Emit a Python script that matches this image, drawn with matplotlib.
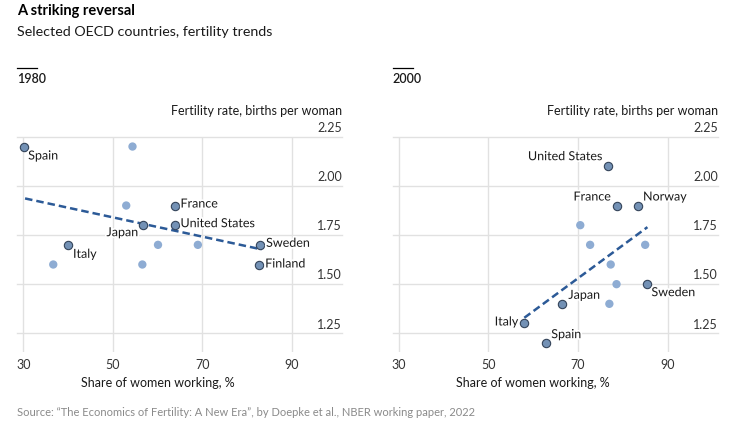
import matplotlib.pyplot as plt
import matplotlib.patheffects as pe
from matplotlib.lines import Line2D

plt.rcParams["font.family"] = ["Lato", "DejaVu Sans"]

# --- data -----------------------------------------------------------------
countries_1980 = ["Spain", "France", "United States", "Japan", "Italy", "Sweden", "Finland"]
work_1980 = [30.2, 64.0, 64.0, 56.8, 40.0, 82.9, 82.7]
fert_1980 = [2.20, 1.90, 1.80, 1.80, 1.70, 1.70, 1.60]
other_work_1980 = [54.4, 53.0, 60.1, 69.0, 36.7, 56.6]
other_fert_1980 = [2.20, 1.90, 1.70, 1.70, 1.60, 1.60]
trend_x_1980 = [30.4, 83.2]
trend_y_1980 = [1.936, 1.677]

countries_2000 = ["United States", "France", "Norway", "Sweden", "Japan", "Italy", "Spain"]
work_2000 = [76.6, 78.7, 83.4, 85.5, 66.5, 58.0, 62.9]
fert_2000 = [2.10, 1.90, 1.90, 1.50, 1.40, 1.30, 1.20]
other_work_2000 = [70.5, 72.7, 85.0, 77.3, 78.6, 77.0]
other_fert_2000 = [1.80, 1.70, 1.70, 1.60, 1.50, 1.40]
trend_x_2000 = [58.0, 85.5]
trend_y_2000 = [1.329, 1.79]

x_ticks = [30, 50, 70, 90]
y_ticks = [1.25, 1.50, 1.75, 2.00, 2.25]

# label placement: (dx px, dy px (down positive), horizontal alignment)
place_1980 = {
    "Spain": (4, 9, "left"),
    "France": (5, -2, "left"),
    "United States": (5, -2, "left"),
    "Japan": (-5, 7, "right"),
    "Italy": (5, 9, "left"),
    "Sweden": (6, -2, "left"),
    "Finland": (6, -1, "left"),
}
place_2000 = {
    "United States": (-5, -10, "right"),
    "France": (-6, -9, "right"),
    "Norway": (5, -9, "left"),
    "Sweden": (4, 8, "left"),
    "Japan": (6, -9, "left"),
    "Italy": (-6, -2, "right"),
    "Spain": (5, -9, "left"),
}

DARK_FILL = "#7391b5"
DARK_EDGE = "#34445a"
LIGHT = "#8eacd3"
TREND = "#2c5a97"
GRID = "#e1e1e1"
TEXT = "#1a1a1a"

W, H = 744, 432
fig = plt.figure(figsize=(W / 100, H / 100), dpi=100)
PX = 72 / 100  # points per pixel


def panel(left, year, names, xs, ys, oxs, oys, tx, ty, place):
    ax = fig.add_axes([left / W, 1 - 352 / H, 325 / W, (352 - 136.7) / H])
    ax.set_xlim(28.6, 101.2)
    ax.set_ylim(1.155, 2.25)
    for s in ax.spines.values():
        s.set_visible(False)
    ax.set_xticks([])
    ax.set_yticks([])
    for x in x_ticks:
        ax.axvline(x, color=GRID, lw=1.0, zorder=0)
    for y in y_ticks:
        ax.axhline(y, color=GRID, lw=1.0, zorder=0, clip_on=False)
        ax.annotate(f"{y:.2f}", (1, y), xycoords=("axes fraction", "data"),
                    xytext=(0, 2), textcoords="offset points",
                    ha="right", va="bottom", fontsize=9, color="#333333")
    for x in x_ticks:
        ax.annotate(str(x), (x, 0), xycoords=("data", "axes fraction"),
                    xytext=(0, -13 * PX), textcoords="offset points",
                    ha="center", va="center", fontsize=9, color="#333333")
    ax.annotate("Share of women working, %", (60, 0), xycoords=("data", "axes fraction"),
                xytext=(0, -31 * PX), textcoords="offset points",
                ha="center", va="center", fontsize=9, color=TEXT)
    ax.annotate("Fertility rate, births per woman", (1, 1), xycoords="axes fraction",
                xytext=(0, 26 * PX), textcoords="offset points",
                ha="right", va="center", fontsize=9, color=TEXT)

    ax.scatter(oxs, oys, s=36, color=LIGHT, edgecolor="none", zorder=2)
    ax.plot(tx, ty, ls=(0, (3.0, 1.6)), color=TREND, lw=1.8, zorder=3)
    ax.scatter(xs, ys, s=36, color=DARK_FILL, edgecolor=DARK_EDGE, lw=0.8, zorder=4)
    for n, x, y in zip(names, xs, ys):
        dx, dy, ha = place[n]
        ax.annotate(n, (x, y), xytext=(dx * PX, -dy * PX), textcoords="offset points",
                    ha=ha, va="center", fontsize=9, color=TEXT, zorder=5,
                    path_effects=[pe.withStroke(linewidth=2.5, foreground="white")])

    # year header with short rule above
    fig.add_artist(Line2D([left / W, (left + 20) / W], [1 - 67.5 / H] * 2,
                          color="black", lw=0.9))
    fig.text(left / W, 1 - 79 / H, year, ha="left", va="center",
             fontsize=9, fontweight="semibold", color=TEXT)
    return ax


panel(17, "1980", countries_1980, work_1980, fert_1980, other_work_1980,
      other_fert_1980, trend_x_1980, trend_y_1980, place_1980)
panel(392.7, "2000", countries_2000, work_2000, fert_2000, other_work_2000,
      other_fert_2000, trend_x_2000, trend_y_2000, place_2000)

fig.text(17 / W, 1 - 11 / H, "A striking reversal", ha="left", va="center",
         fontsize=10.5, fontweight="bold", color="black")
fig.text(17 / W, 1 - 32 / H, "Selected OECD countries, fertility trends", ha="left",
         va="center", fontsize=10.3, color=TEXT)
fig.text(17 / W, 1 - 413 / H,
         "Source: \u201cThe Economics of Fertility: A New Era\u201d, by Doepke et al., NBER working paper, 2022",
         ha="left", va="center", fontsize=8, color="#8a8a8a")

fig.savefig("out.png", dpi=100)
